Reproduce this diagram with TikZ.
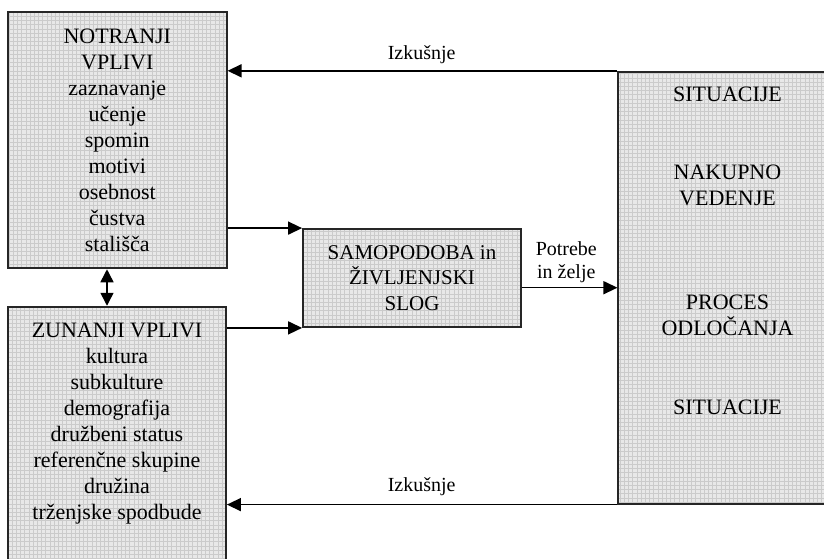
\documentclass[tikz,border=0pt]{standalone}
\usepackage{fontspec}
\setmainfont{Liberation Serif}
\usetikzlibrary{arrows.meta,calc}
\definecolor{boxfill}{RGB}{232,232,232}
\definecolor{gridcol}{RGB}{203,203,203}
\begin{document}
\begin{tikzpicture}[x=1pt,y=-1pt,
  box/.style={rectangle,draw=black!85,line width=1.8pt,fill=boxfill,inner sep=0pt,align=center,
    path picture={\draw[gridcol,line width=0.35pt] (path picture bounding box.south west) grid[step=4.2pt] (path picture bounding box.north east);}},
  big/.style={font=\fontsize{22}{26}\selectfont,align=center,inner sep=0pt},
  mid/.style={font=\fontsize{21}{25.8}\selectfont,align=center,inner sep=0pt},
  lab/.style={font=\fontsize{20}{22.5}\selectfont,align=center,inner sep=0pt},
  conn/.style={line width=1.5pt,-{Triangle[length=14pt,width=13pt]}},
  dconn/.style={line width=1.5pt,{Triangle[length=13pt,width=13pt]}-{Triangle[length=13pt,width=13pt]}}]
\useasboundingbox (0,0) rectangle (824,558);
\clip (0,0) rectangle (824,558);
\fill[white] (0,0) rectangle (824,558);

% boxes
\node[box,big,minimum width=218.7pt,minimum height=256.3pt] (A) at (117.3,140.2)
  {NOTRANJI\\VPLIVI\\zaznavanje\\učenje\\spomin\\motivi\\osebnost\\čustva\\stališča};
\node[box,minimum width=218pt,minimum height=293.3pt] (B) at (117,453.3) {};
\node[big] (Btext) at (117,423.5)
  {ZUNANJI VPLIVI\\kultura\\subkulture\\demografija\\družbeni status\\referenčne skupine\\družina\\trženjske spodbude};
\node[box,mid,minimum width=218pt,minimum height=98pt] (M) at (412,278)
  {SAMOPODOBA in\\ŽIVLJENJSKI\\SLOG};
\node[box,minimum width=221.7pt,minimum height=432pt] (R) at (729.2,287.7) {};
\node[big,anchor=base] (R1) at (727.5,101.7) {SITUACIJE};
\node[big] (R2) at (727.5,185) {NAKUPNO\\VEDENJE};
\node[big] (R3) at (727.5,315.7) {PROCES\\ODLOČANJA};
\node[big,anchor=base] (R4) at (727.5,414.3) {SITUACIJE};

% connectors
\draw[conn] (R.north west) -- (R.north west -| A.east);
\draw[conn] (R.south west) -- (R.south west -| B.east);
\draw[conn] (A.east |- M.north) -- (M.north west);
\draw[conn] (B.east |- M.south) -- (M.south west);
\draw[conn] (M.east |- R.west) -- (R.west);
\draw[dconn] ([xshift=-10.3pt]A.south) -- ([xshift=-10.3pt]A.south |- B.north);

% labels
\node[lab,anchor=base] (L1) at (421.7,59.3) {Izkušnje};
\node[lab,anchor=base] (L2) at (421.7,491.7) {Izkušnje};
\node[lab] (L3) at (566.3,262) {Potrebe\\in želje};
\end{tikzpicture}
\end{document}
